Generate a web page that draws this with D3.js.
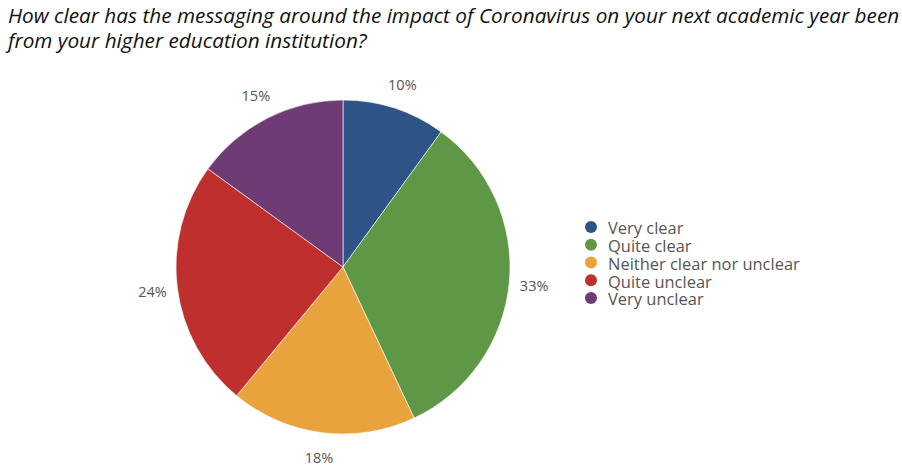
<!DOCTYPE html>
<html><head><meta charset="utf-8">
<script src="https://cdn.jsdelivr.net/npm/d3@7"></script>
<style>body{margin:0;background:#fff}</style>
</head><body>
<svg id="c" width="902" height="473"></svg>
<script>
const categories = ["Very clear","Quite clear","Neither clear nor unclear","Quite unclear","Very unclear"];
const values = [10,33,18,24,15];
const colors = ["#2e5487","#5e9745","#e8a33c","#bf2f2e","#6e3b74"];
const titleLines = ["How clear has the messaging around the impact of Coronavirus on your next academic year been","from your higher education institution?"];

const svg = d3.select("#c");
const cx = 343, cy = 267, r = 167;

// title
const tg = svg.append("g").attr("transform","translate(8,0)");
const tt = tg.selectAll("text").data(titleLines).join("text")
  .attr("x",0).attr("y",(d,i)=>23+i*25)
  .attr("font-family","'Open Sans',sans-serif")
  .attr("font-style","italic").attr("font-size",20).attr("fill","#111")
  .text(d=>d);
const w0 = tt.nodes()[0].getComputedTextLength();
const sx = 892/w0;
tt.attr("transform",`scale(${sx},1)`);

const pie = d3.pie().sort(null).value(d=>d)(values);
const arc = d3.arc().innerRadius(0).outerRadius(r);
const g = svg.append("g").attr("transform",`translate(${cx},${cy})`);
g.selectAll("path").data(pie).join("path")
  .attr("d",arc).attr("fill",(d,i)=>colors[i])
  .attr("stroke","#fff").attr("stroke-width",0.6);

const lab = d3.arc().innerRadius(192).outerRadius(192);
g.selectAll("text").data(pie).join("text")
  .attr("transform",d=>`translate(${lab.centroid(d)})`)
  .attr("text-anchor","middle").attr("dominant-baseline","central")
  .attr("font-family","'Open Sans',sans-serif").attr("font-size",14.5).attr("fill","#555")
  .text(d=>d.data+"%");

const lg = svg.append("g");
const ly = d3.scalePoint().domain(categories).range([227,298]);
lg.selectAll("circle").data(categories).join("circle")
  .attr("cx",591).attr("cy",d=>ly(d)).attr("r",6).attr("fill",(d,i)=>colors[i]);
const lt = lg.selectAll("text").data(categories).join("text")
  .attr("x",0).attr("y",d=>ly(d)+1).attr("dominant-baseline","central")
  .attr("font-family","'Open Sans',sans-serif").attr("font-size",16.5).attr("fill","#555")
  .text(d=>d);
const lw = lt.nodes()[2].getComputedTextLength();
lt.attr("transform",`translate(608,0) scale(${192/lw},1)`);
</script>
</body></html>
